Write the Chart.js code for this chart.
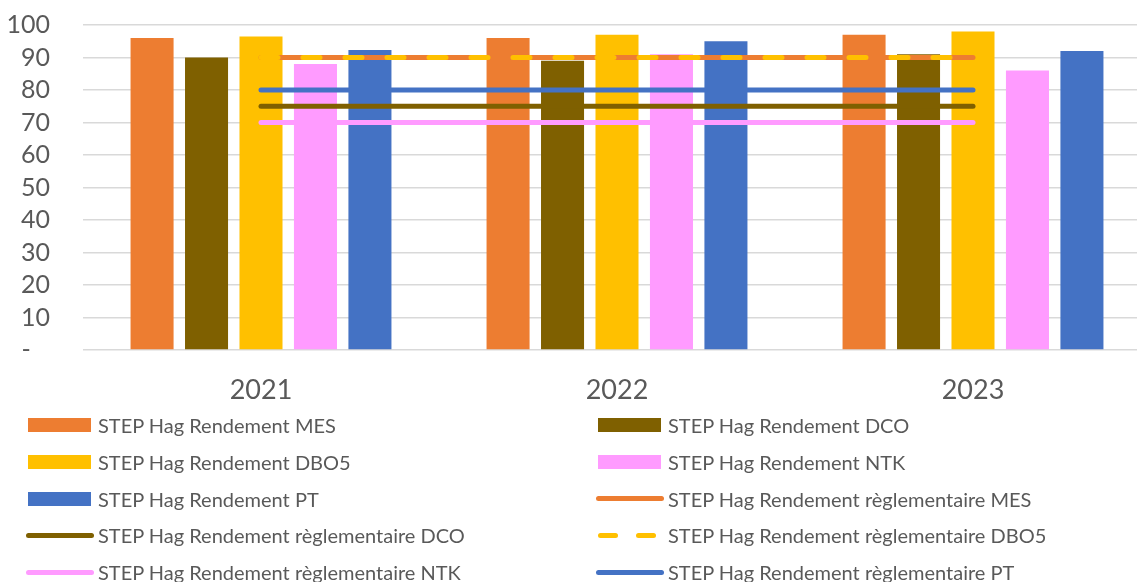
<!DOCTYPE html>
<html lang="fr">
<head>
    <meta charset="UTF-8">
    <title>STEP Hag - Rendements</title>
    <script src="https://cdn.jsdelivr.net/npm/chart.js"></script>
    <style>
        body {
            margin: 0;
            width: 1137px;
            height: 582px;
            overflow: hidden;
            background: #fff;
            font-family: Lato, sans-serif;
            color: #595959;
        }
        #chart-box {
            position: absolute;
            left: 0;
            top: -23px;
            width: 1160px;
            height: 433px;
        }
        #legend {
            position: absolute;
            left: 26px;
            top: 407px;
            display: grid;
            grid-template-columns: 570px 500px;
            grid-auto-rows: 36.7px;
            font-size: 20px;
        }
        .item {
            display: flex;
            align-items: center;
        }
        .swatch {
            width: 68px;
            height: 14px;
            margin-right: 4px;
            position: relative;
        }
        .swatch.box span {
            position: absolute;
            left: 2px;
            right: 3px;
            top: 0;
            bottom: 0;
        }
        .swatch.line span {
            position: absolute;
            top: 4.5px;
            height: 5px;
            border-radius: 3px;
        }
    </style>
</head>
<body>
    <div id="chart-box"><canvas id="rendChart"></canvas></div>
    <div id="legend"></div>

    <script>
        // Data
        const years = ['2021', '2022', '2023'];

        const rendMES  = [96, 96, 97];
        const rendDCO  = [90, 89, 91];
        const rendDBO5 = [96.5, 97, 98];
        const rendNTK  = [88, 91, 86];
        const rendPT   = [92.3, 95, 92];

        const reglMES  = [90, 90, 90];
        const reglDCO  = [75, 75, 75];
        const reglDBO5 = [90, 90, 90];
        const reglNTK  = [70, 70, 70];
        const reglPT   = [80, 80, 80];

        const yTicks = [0, 10, 20, 30, 40, 50, 60, 70, 80, 90, 100];

        const C = {
            mes: '#ED7D31',
            dco: '#7F6000',
            dbo5: '#FFC000',
            ntk: '#FF9BFF',
            pt: '#4472C4'
        };

        function bar(label, data, color) {
            return {
                type: 'bar', label: label, data: data,
                backgroundColor: color, order: 10,
                categoryPercentage: 0.765, barPercentage: 0.79
            };
        }
        function line(label, data, color, order, dash) {
            return {
                type: 'line', label: label, data: data,
                borderColor: color, backgroundColor: color,
                borderWidth: 5, borderCapStyle: 'round',
                borderDash: dash || [], pointRadius: 0,
                fill: false, order: order
            };
        }

        const datasets = [
            bar('STEP Hag Rendement MES', rendMES, C.mes),
            bar('STEP Hag Rendement DCO', rendDCO, C.dco),
            bar('STEP Hag Rendement DBO5', rendDBO5, C.dbo5),
            bar('STEP Hag Rendement NTK', rendNTK, C.ntk),
            bar('STEP Hag Rendement PT', rendPT, C.pt),
            line('STEP Hag Rendement règlementaire MES', reglMES, C.mes, 5),
            line('STEP Hag Rendement règlementaire DCO', reglDCO, C.dco, 3),
            line('STEP Hag Rendement règlementaire DBO5', reglDBO5, C.dbo5, 4, [17, 25]),
            line('STEP Hag Rendement règlementaire NTK', reglNTK, C.ntk, 3),
            line('STEP Hag Rendement règlementaire PT', reglPT, C.pt, 3)
        ];

        const chart = new Chart(document.getElementById('rendChart'), {
            data: { labels: years, datasets: datasets },
            options: {
                responsive: true,
                maintainAspectRatio: false,
                animation: false,
                layout: { padding: { top: 0, right: 9, left: 0, bottom: 0 } },
                plugins: { legend: { display: false }, tooltip: { enabled: false } },
                scales: {
                    x: {
                        grid: { display: false, drawTicks: false },
                        border: { display: false },
                        ticks: { color: '#595959', font: { family: 'Lato', size: 27 }, padding: 24 },
                        afterFit: s => { s.height = 60; }
                    },
                    y: {
                        min: 0, max: 100,
                        afterBuildTicks: s => { s.ticks = yTicks.map(v => ({ value: v })); },
                        grid: { color: '#D9D9D9', lineWidth: 1.5, drawTicks: false },
                        border: { display: false },
                        ticks: {
                            color: '#595959',
                            font: { family: 'Lato', size: 25 },
                            padding: 33,
                            autoSkip: false,
                            callback: v => v === 0 ? '-   ' : v
                        },
                        afterFit: s => { s.width = 83; }
                    }
                }
            }
        });

        // HTML legend, two columns, built from the datasets
        const legend = document.getElementById('legend');
        chart.data.datasets.forEach(ds => {
            const item = document.createElement('div');
            item.className = 'item';
            const sw = document.createElement('div');
            if (ds.type === 'bar') {
                sw.className = 'swatch box';
                sw.innerHTML = '<span style="background:' + ds.backgroundColor + '"></span>';
            } else if (ds.borderDash.length) {
                sw.className = 'swatch line';
                sw.innerHTML = '<span style="left:2px;width:20px;background:' + ds.borderColor + '"></span>' +
                               '<span style="left:40px;width:20px;background:' + ds.borderColor + '"></span>';
            } else {
                sw.className = 'swatch line';
                sw.innerHTML = '<span style="left:0;right:0;background:' + ds.borderColor + '"></span>';
            }
            const txt = document.createElement('span');
            txt.textContent = ds.label;
            item.appendChild(sw);
            item.appendChild(txt);
            legend.appendChild(item);
        });
    </script>
</body>
</html>
